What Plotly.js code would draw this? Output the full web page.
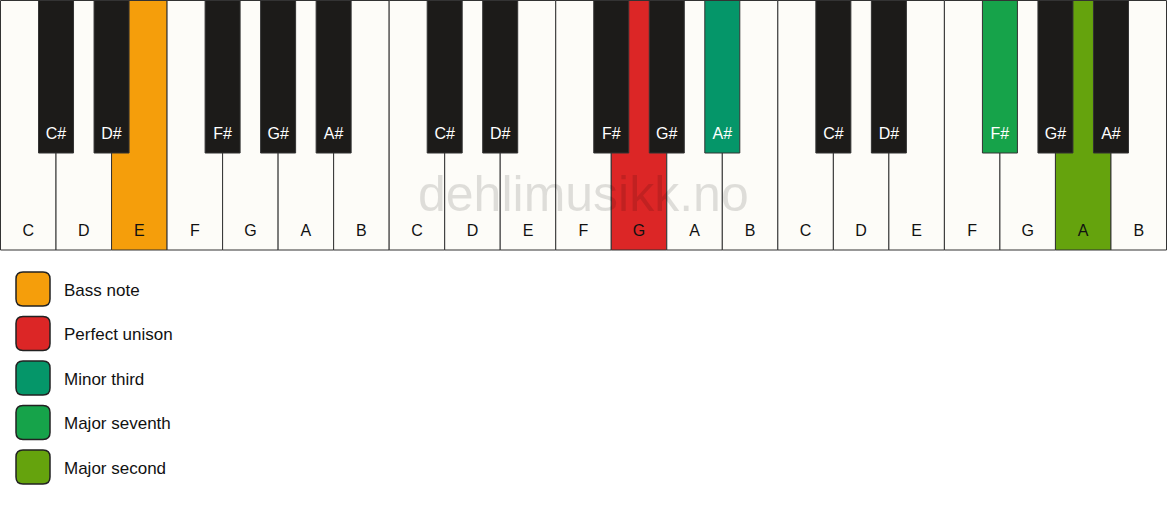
<!DOCTYPE html>
<html>
<head>
<meta charset="utf-8">
<script src="https://cdn.plot.ly/plotly-3.0.1.min.js"></script>
<style>
  body { margin: 0; background: #ffffff; }
  #chart { width: 1167px; height: 506px; }
</style>
</head>
<body>
<div id="chart"></div>
<script>
// notes on the keyboard (3 octaves)
let whiteNotes = ['C','D','E','F','G','A','B'];
let blackNotes = ['C#','D#','','F#','G#','A#',''];   // '' = no black key after E and B
let octaves = 3;

// marked keys: [octave, note, colour]
let marked = [
  [0, 'E', '#f59e0b'],
  [1, 'G', '#dc2626'],
  [1, 'A#', '#059669'],
  [2, 'F#', '#16a34a'],
  [2, 'A', '#65a30d']
];

// legend
let legendLabels = ['Bass note', 'Perfect unison', 'Minor third', 'Major seventh', 'Major second'];
let legendColors = ['#f59e0b', '#dc2626', '#059669', '#16a34a', '#65a30d'];

const W = 1167, H = 506;
const kw = 1166 / (whiteNotes.length * octaves);   // white key width
const whiteH = 250, blackH = 153, blackW = 35;
const whiteFill = '#fdfcf8', blackFill = '#1c1b19', edge = '#333333';

function markColor(oct, note){
  for (let m of marked) if (m[0] == oct && m[1] == note) return m[2];
  return null;
}

let wx = [], wcol = [], wtext = [], wy = [];
let bx = [], bcol = [], btext = [], by = [];
for (let o = 0; o < octaves; o++){
  for (let i = 0; i < whiteNotes.length; i++){
    let n = o * whiteNotes.length + i;
    let c = markColor(o, whiteNotes[i]);
    wx.push(0.5 + (n + 0.5) * kw);
    wcol.push(c || whiteFill);
    wtext.push(whiteNotes[i]);
    wy.push(whiteH - 18);
    if (blackNotes[i]){
      let cb = markColor(o, blackNotes[i]);
      bx.push(0.5 + (n + 1) * kw);
      bcol.push(cb || blackFill);
      btext.push(blackNotes[i]);
      by.push(blackH - 18);
    }
  }
}

let whiteKeys = {
  type: 'bar', x: wx, y: wx.map(() => whiteH - 0.5), base: 0.5,
  width: kw, marker: {color: wcol, line: {color: edge, width: 1}},
  hoverinfo: 'skip', showlegend: false
};
let blackKeys = {
  type: 'bar', x: bx, y: bx.map(() => blackH - 0.5), base: 0.5,
  width: blackW, marker: {color: bcol, line: {color: edge, width: 1}},
  hoverinfo: 'skip', showlegend: false
};
let whiteLabels = {
  type: 'scatter', mode: 'text', x: wx, y: wy, text: wtext,
  textfont: {family: 'Liberation Sans, Arial, sans-serif', size: 16, color: '#111111'},
  hoverinfo: 'skip', showlegend: false
};
let blackLabels = {
  type: 'scatter', mode: 'text', x: bx, y: by, text: btext,
  textfont: {family: 'Liberation Sans, Arial, sans-serif', size: 16, color: '#ffffff'},
  hoverinfo: 'skip', showlegend: false
};

// legend boxes (rounded) and texts
const boxX = 16, boxS = 34, boxY0 = 272, boxStep = 44.5, r = 7;
function roundRect(x0, y0, s, r){
  let x1 = x0 + s, y1 = y0 + s;
  return 'M' + (x0 + r) + ',' + y0 + ' L' + (x1 - r) + ',' + y0 +
    ' Q' + x1 + ',' + y0 + ' ' + x1 + ',' + (y0 + r) +
    ' L' + x1 + ',' + (y1 - r) + ' Q' + x1 + ',' + y1 + ' ' + (x1 - r) + ',' + y1 +
    ' L' + (x0 + r) + ',' + y1 + ' Q' + x0 + ',' + y1 + ' ' + x0 + ',' + (y1 - r) +
    ' L' + x0 + ',' + (y0 + r) + ' Q' + x0 + ',' + y0 + ' ' + (x0 + r) + ',' + y0 + ' Z';
}
let shapes = legendColors.map((c, i) => ({
  type: 'path', xref: 'x', yref: 'y',
  path: roundRect(boxX, boxY0 + i * boxStep, boxS, r),
  fillcolor: c, line: {color: '#222222', width: 1.5}
}));
let legendText = {
  type: 'scatter', mode: 'text',
  x: legendLabels.map(() => 64),
  y: legendLabels.map((l, i) => boxY0 + i * boxStep + boxS / 2 + 2.5),
  text: legendLabels, textposition: 'middle right',
  textfont: {family: 'Liberation Sans, Arial, sans-serif', size: 17, color: '#111111'},
  hoverinfo: 'skip', showlegend: false
};

let layout = {
  width: W, height: H,
  margin: {l: 0, r: 0, t: 0, b: 0},
  paper_bgcolor: '#ffffff', plot_bgcolor: '#ffffff',
  barmode: 'overlay', bargap: 0,
  showlegend: false,
  xaxis: {range: [0, W], visible: false, fixedrange: true},
  yaxis: {range: [H, 0], visible: false, fixedrange: true},
  shapes: shapes,
  annotations: [{
    text: 'dehlimusikk.no', x: 583, y: 194, xref: 'x', yref: 'y',
    showarrow: false, xanchor: 'center', yanchor: 'middle',
    font: {family: 'Liberation Sans, Arial, sans-serif', size: 50, color: 'rgba(0,0,0,0.12)'}
  }]
};

Plotly.newPlot('chart', [whiteKeys, blackKeys, whiteLabels, blackLabels, legendText], layout,
  {displayModeBar: false, staticPlot: true});
</script>
</body>
</html>
